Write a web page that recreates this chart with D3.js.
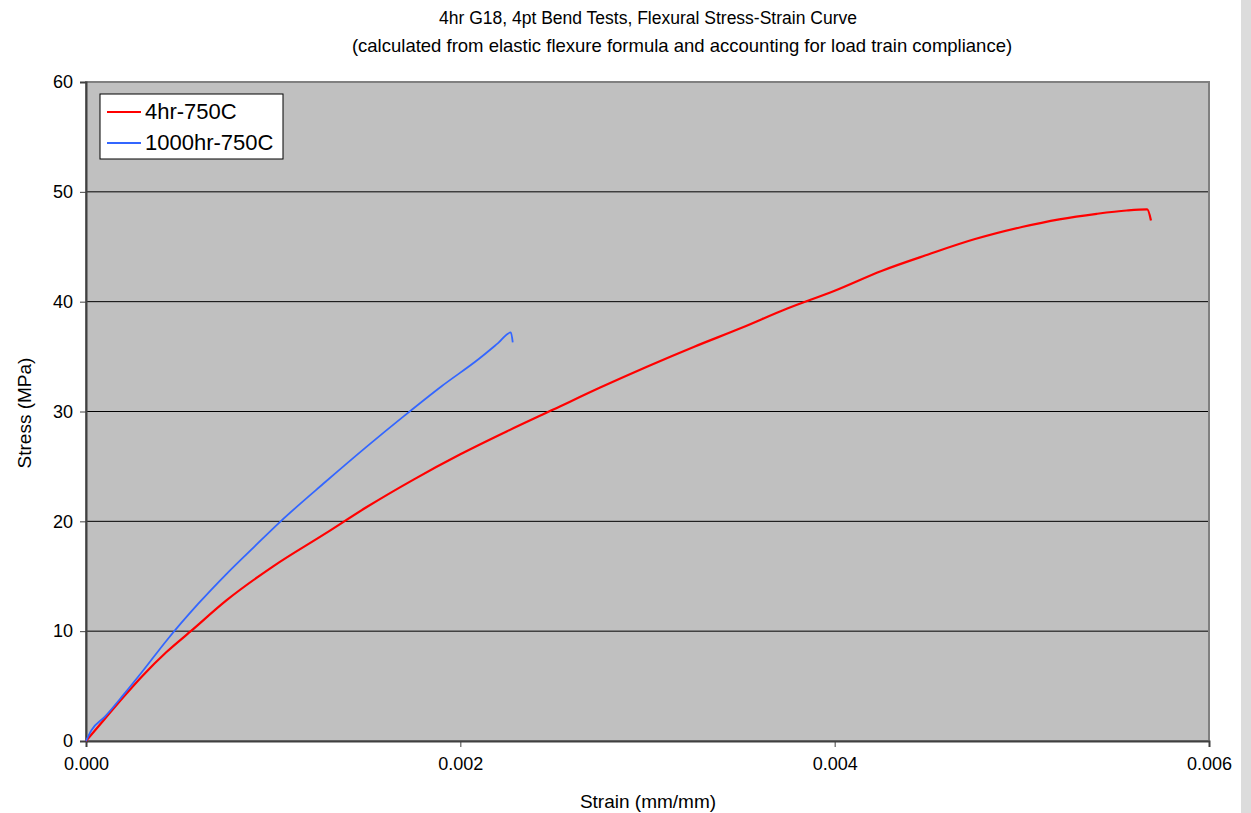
<!DOCTYPE html>
<html>
<head>
<meta charset="utf-8">
<script src="https://cdn.jsdelivr.net/npm/d3@7"></script>
<style>
  body { margin: 0; background: #fff; }
  text { font-family: "Liberation Sans", Arial, sans-serif; fill: #000; }
</style>
</head>
<body>
<div class="chart"></div>
<script>
var svgWidth = 1251;
var svgHeight = 813;

var margin = { top: 82, right: 42, bottom: 72, left: 86 };
var width = 1209 - margin.left;
var height = 741 - margin.top;

// data (strain mm/mm, stress MPa)
var strain4hr = [0, 0.0001, 0.0002, 0.0003, 0.00043, 0.00056, 0.00075, 0.001, 0.00128, 0.0015, 0.00175, 0.002, 0.00225, 0.0025, 0.00275, 0.003, 0.00325, 0.0035, 0.00375, 0.004, 0.00425, 0.0045, 0.00475, 0.005, 0.0052, 0.0054, 0.00556, 0.00567, 0.00569];
var stress4hr = [0, 2.0, 4.0, 5.9, 8.1, 10.0, 12.8, 15.9, 18.9, 21.3, 23.8, 26.1, 28.2, 30.2, 32.2, 34.1, 35.9, 37.6, 39.4, 41.0, 42.8, 44.3, 45.7, 46.8, 47.5, 48.0, 48.3, 48.4, 47.4];

var strain1000hr = [0, 0.00003, 0.0001, 0.0002, 0.0003, 0.000433, 0.0006, 0.00075, 0.0009, 0.00104, 0.00128, 0.0015, 0.0017, 0.0019, 0.0021, 0.0022, 0.00227, 0.00228];
var stress1000hr = [0, 1.0, 2.2, 4.2, 6.3, 9.2, 12.5, 15.2, 17.7, 20.0, 23.6, 26.8, 29.6, 32.3, 34.8, 36.2, 37.2, 36.3];

var seriesNames = ["4hr-750C", "1000hr-750C"];
var seriesColors = ["#ff0000", "#3366ff"];

var xTicks = [0, 0.002, 0.004, 0.006];
var yTicks = [0, 10, 20, 30, 40, 50, 60];

var svg = d3.select(".chart")
  .append("svg")
  .attr("width", svgWidth)
  .attr("height", svgHeight);

// light strip at far right edge of the picture
svg.append("rect")
  .attr("x", 1241).attr("y", 0)
  .attr("width", 10).attr("height", svgHeight)
  .attr("fill", "#dcdcdc");

var chartGroup = svg.append("g")
  .attr("transform", `translate(${margin.left}, ${margin.top})`);

var xScale = d3.scaleLinear().domain([0, 0.006]).range([0, width]);
var yScale = d3.scaleLinear().domain([0, 60]).range([height, 0]);

// plot area background
chartGroup.append("rect")
  .attr("width", width)
  .attr("height", height)
  .attr("fill", "#c0c0c0");

// gridlines
chartGroup.selectAll(".grid")
  .data(yTicks.filter(d => d > 0 && d < 60))
  .enter().append("line")
  .attr("x1", 0).attr("x2", width)
  .attr("y1", d => yScale(d)).attr("y2", d => yScale(d))
  .attr("stroke", "#000")
  .attr("stroke-width", 1);

// border
chartGroup.append("rect")
  .attr("width", width)
  .attr("height", height)
  .attr("fill", "none")
  .attr("stroke", "#808080")
  .attr("stroke-width", 2);

// axes
var bottomAxis = d3.axisBottom(xScale).tickValues(xTicks).tickFormat(d3.format(".3f")).tickSizeOuter(0).tickSize(6).tickPadding(10);
var leftAxis = d3.axisLeft(yScale).tickValues(yTicks).tickFormat(d3.format("d")).tickSizeOuter(0).tickSize(6).tickPadding(7);

var xAxisG = chartGroup.append("g")
  .attr("transform", `translate(0, ${height})`)
  .call(bottomAxis);
var yAxisG = chartGroup.append("g").call(leftAxis);

[xAxisG, yAxisG].forEach(function(g) {
  g.select(".domain").attr("stroke", "#404040").attr("stroke-width", 2);
  g.selectAll(".tick line").attr("stroke", "#404040");
  g.selectAll(".tick text")
    .style("font-family", "Liberation Sans, Arial, sans-serif")
    .style("font-size", "18px")
    .attr("fill", "#000");
});

// lines
var line = d3.line()
  .curve(d3.curveMonotoneX)
  .x(d => xScale(d[0]))
  .y(d => yScale(d[1]));

var seriesData = [
  d3.zip(strain4hr, stress4hr),
  d3.zip(strain1000hr, stress1000hr)
];

chartGroup.selectAll(".series")
  .data(seriesData)
  .enter().append("path")
  .attr("d", line)
  .attr("fill", "none")
  .attr("stroke", (d, i) => seriesColors[i])
  .attr("stroke-width", (d, i) => i === 0 ? 2.2 : 1.8)
  .attr("stroke-linejoin", "round");

// legend
var legend = svg.append("g").attr("transform", "translate(100, 94)");
legend.append("rect")
  .attr("width", 183).attr("height", 65)
  .attr("fill", "#fff")
  .attr("stroke", "#000").attr("stroke-width", 1);

seriesNames.forEach(function(name, i) {
  var yy = 18 + i * 31;
  legend.append("line")
    .attr("x1", 7).attr("x2", 41)
    .attr("y1", yy).attr("y2", yy)
    .attr("stroke", seriesColors[i]).attr("stroke-width", 2);
  legend.append("text")
    .attr("x", 45).attr("y", yy + 7)
    .style("font-size", "22px")
    .text(name);
});

// titles
svg.append("text")
  .attr("x", 648).attr("y", 24)
  .attr("text-anchor", "middle")
  .style("font-size", "17.5px")
  .text("4hr G18, 4pt Bend Tests, Flexural Stress-Strain Curve");
svg.append("text")
  .attr("x", 682).attr("y", 52)
  .attr("text-anchor", "middle")
  .style("font-size", "18.5px")
  .text("(calculated from elastic flexure formula and accounting for load train compliance)");

svg.append("text")
  .attr("x", 648).attr("y", 808)
  .attr("text-anchor", "middle")
  .style("font-size", "19px")
  .text("Strain (mm/mm)");

svg.append("text")
  .attr("transform", "translate(31, 413) rotate(-90)")
  .attr("text-anchor", "middle")
  .style("font-size", "19px")
  .text("Stress (MPa)");
</script>
</body>
</html>
